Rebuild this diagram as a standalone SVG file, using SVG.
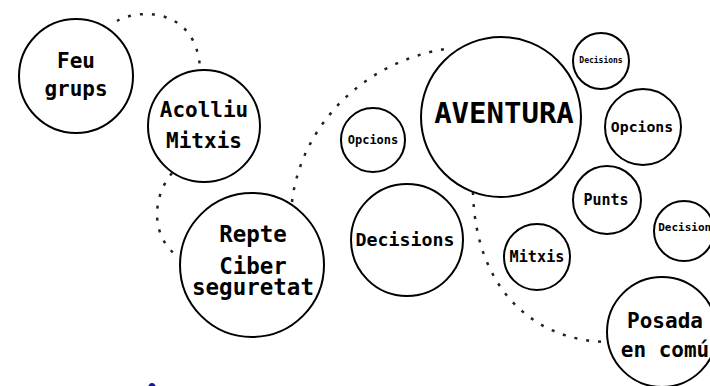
<svg xmlns="http://www.w3.org/2000/svg" width="710" height="386" viewBox="0 0 710 386">
<style>
.n{fill:#fff;stroke:#000;stroke-width:2}
.t{font-family:"DejaVu Sans Mono",monospace;font-weight:bold;fill:#000;text-anchor:middle}
.c{fill:none;stroke:#222;stroke-width:2.5;stroke-dasharray:3 9;stroke-linecap:butt}
</style>
<rect width="710" height="386" fill="#fff"/>
<g id="connectors">
<path class="c" d="M117,21 C140,8 196,8 200,68"/>
<path class="c" d="M172,173 C150,200 152,240 180,258"/>
<path class="c" d="M292,202 C300,130 360,60 452,48"/>
<path class="c" d="M473,192 C475,285 530,340 606,342"/>
</g>
<g id="feu"><circle class="n" cx="76" cy="76" r="57"/><text class="t" x="76" y="68" font-size="21">Feu</text><text class="t" x="76" y="96" font-size="21">grups</text></g>
<g id="acolliu"><circle class="n" cx="204" cy="126" r="56"/><text class="t" x="204" y="117" font-size="21">Acolliu</text><text class="t" x="204" y="148" font-size="21">Mitxis</text></g>
<g id="repte"><circle class="n" cx="252" cy="265" r="72"/><text class="t" x="253" y="242" font-size="22.5">Repte</text><text class="t" x="253" y="274" font-size="22.5">Ciber</text><text class="t" x="253" y="295" font-size="22.5">seguretat</text></g>
<g id="opcions1"><circle class="n" cx="373" cy="140" r="32"/><text class="t" x="373" y="144" font-size="12">Opcions</text></g>
<g id="aventura"><circle class="n" cx="501" cy="117" r="80" stroke-width="3"/><text class="t" x="504" y="123" font-size="29">AVENTURA</text></g>
<g id="decisions1"><circle class="n" cx="407" cy="240" r="56"/><text class="t" x="405" y="246" font-size="18.3">Decisions</text></g>
<g id="mitxis"><circle class="n" cx="537" cy="257" r="33"/><text class="t" x="537" y="262" font-size="15.2">Mitxis</text></g>
<g id="punts"><circle class="n" cx="607" cy="200" r="34"/><text class="t" x="606" y="205" font-size="15">Punts</text></g>
<g id="decisions2"><circle class="n" cx="684" cy="231" r="30"/><text class="t" x="688" y="231" font-size="11">Decisions</text></g>
<g id="posada"><circle class="n" cx="662" cy="332" r="55"/><text class="t" x="665" y="328" font-size="21">Posada</text><text class="t" x="665" y="357" font-size="21">en comú</text></g>
<g id="decisions3"><circle class="n" cx="601" cy="61" r="28"/><text class="t" x="601" y="63" font-size="8">Decisions</text></g>
<g id="opcions2"><circle class="n" cx="643" cy="127" r="38"/><text class="t" x="642" y="132" font-size="14.8">Opcions</text></g>
<ellipse cx="152" cy="388" rx="4" ry="5" fill="#1a1a8c"/>
</svg>
